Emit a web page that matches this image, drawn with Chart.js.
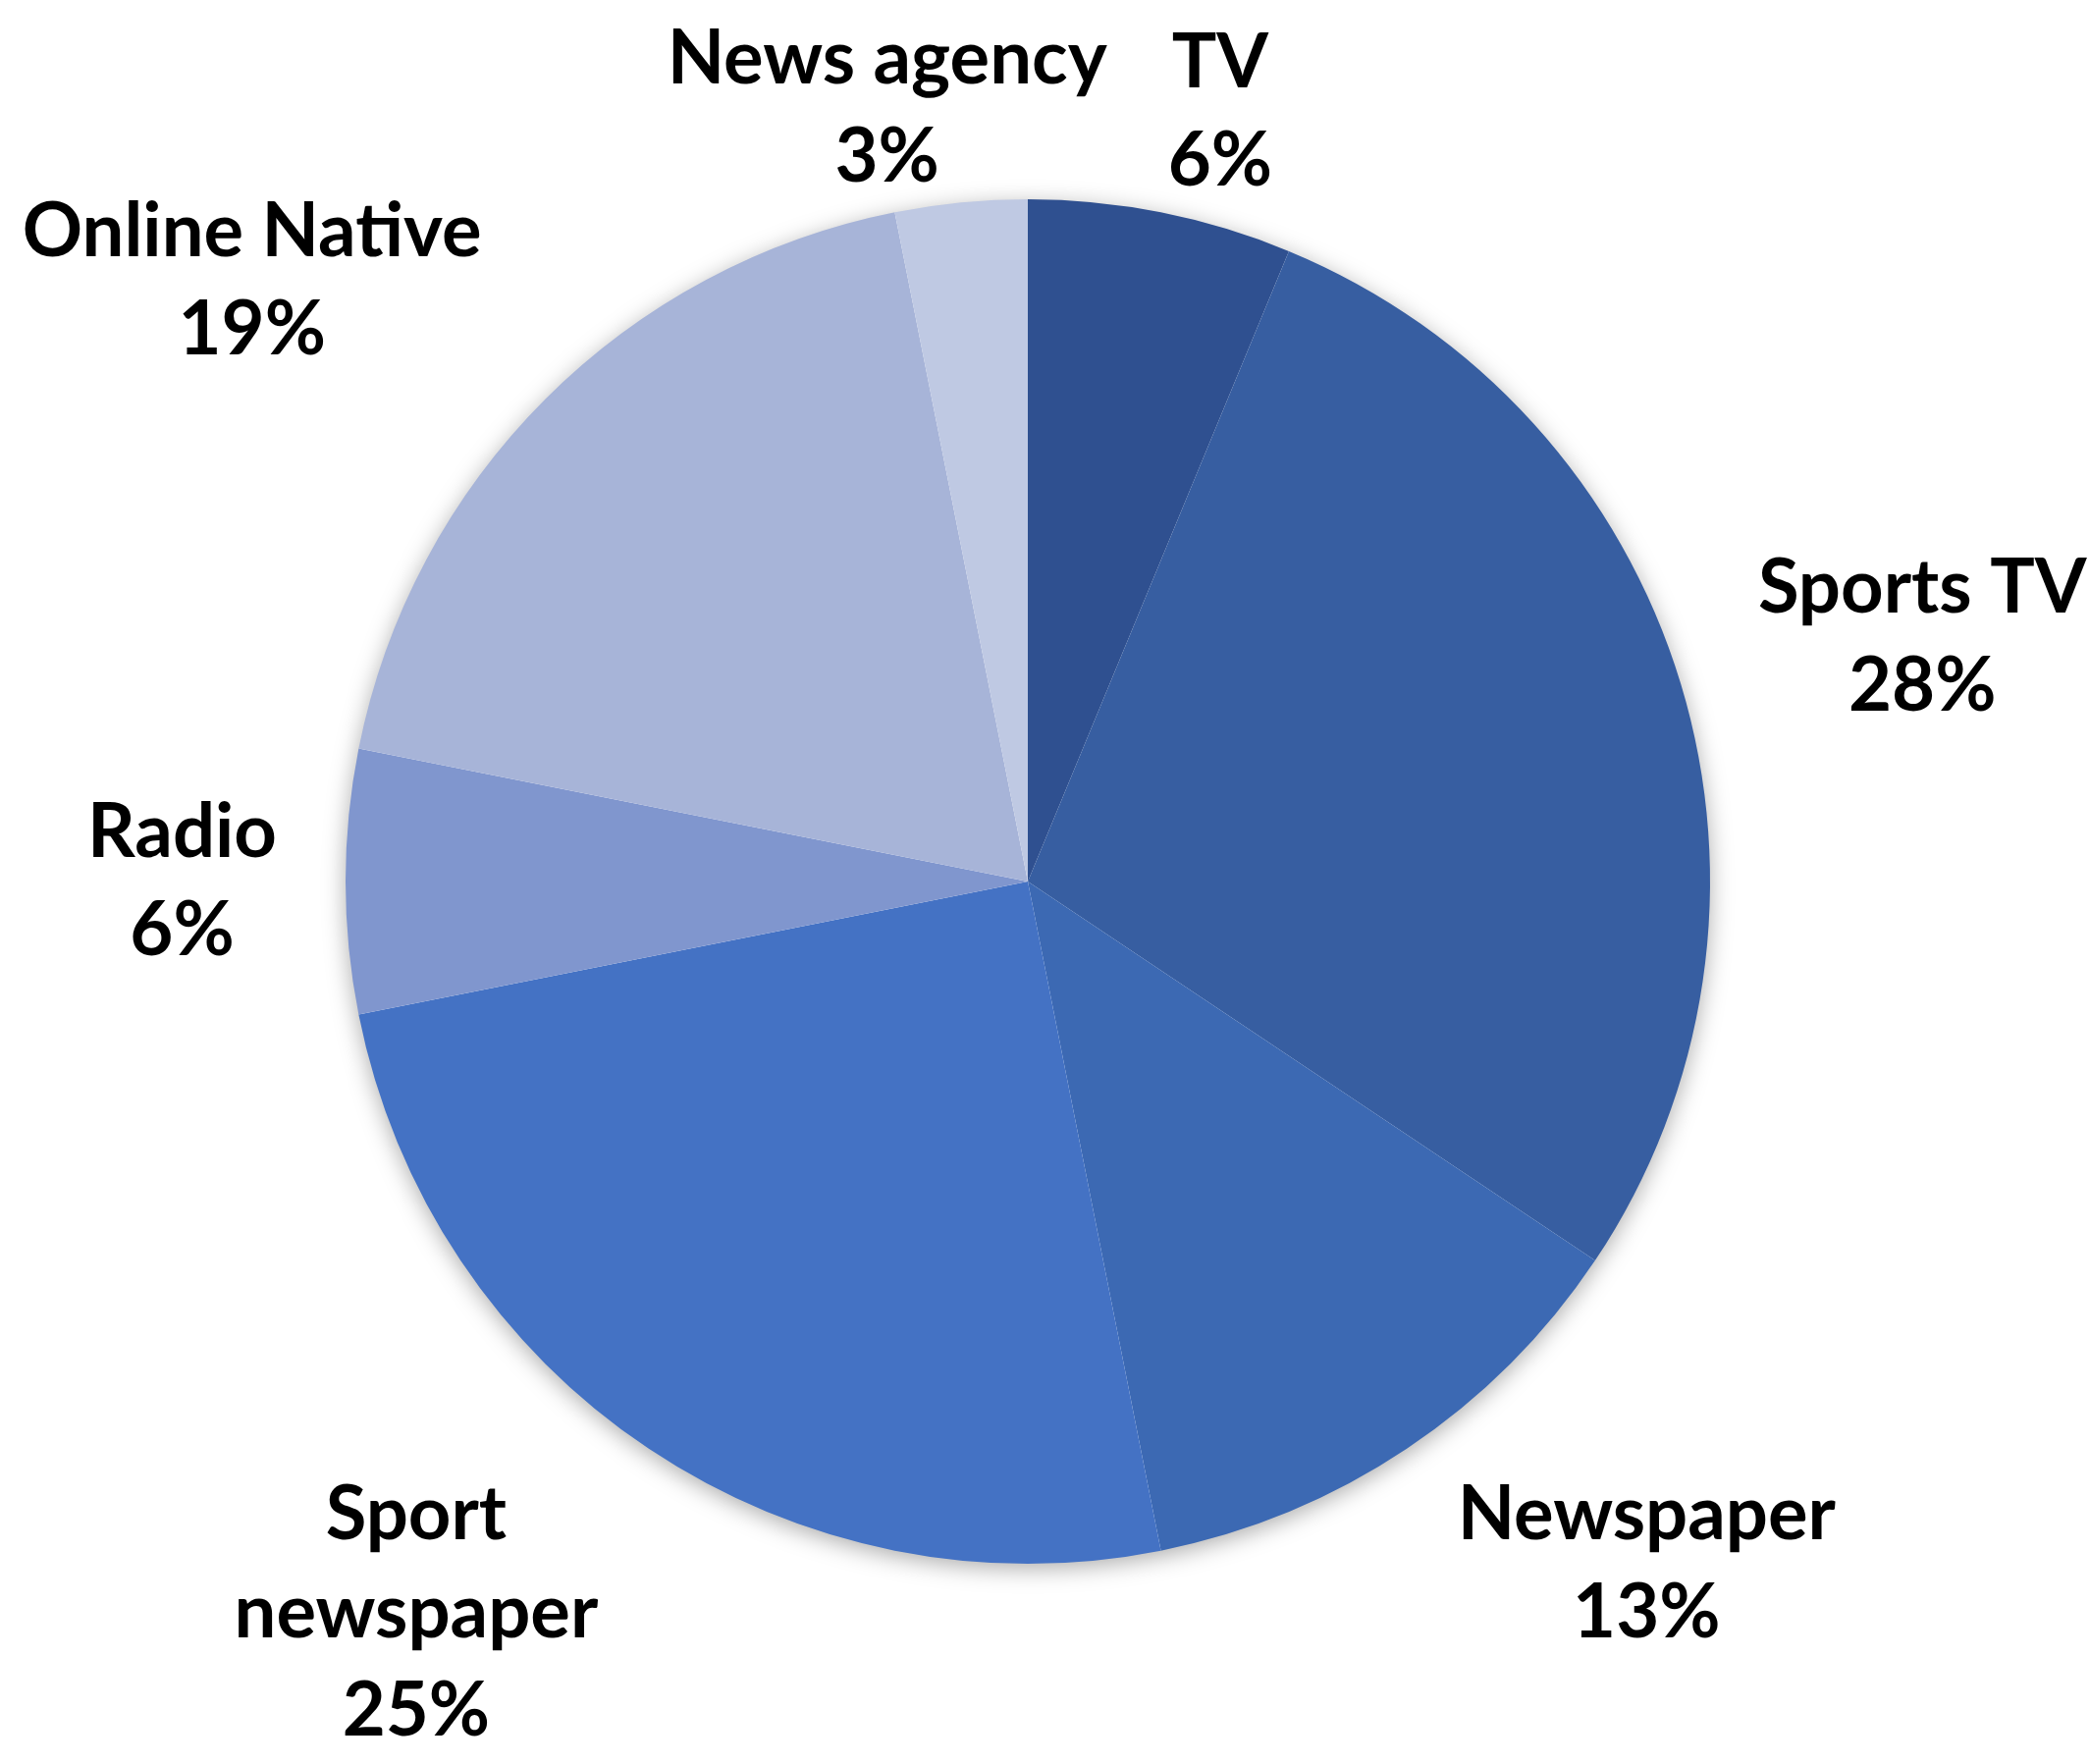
<!DOCTYPE html>
<html>
<head>
<meta charset="utf-8">
<script src="https://cdn.jsdelivr.net/npm/chart.js@4.4.1/dist/chart.umd.min.js"></script>
<style>
  html, body { margin: 0; padding: 0; background: #fff; }
  canvas { display: block; }
</style>
</head>
<body>
<canvas id="pieChart" width="2128" height="1797"></canvas>
<script>
const categories = ['TV', 'Sports TV', 'Newspaper', 'Sport newspaper', 'Radio', 'Online Native', 'News agency'];
const counts = [2, 9, 4, 8, 2, 6, 1];
const sliceColors = ['#2F5090', '#375EA1', '#3C69B3', '#4472C4', '#8096CE', '#A7B4D8', '#BFC9E3'];

const labelFont = 'bold 76px Lato, "Open Sans", sans-serif';
const lineHeight = 100;
const wrapWidth = 500;

const total = counts.reduce((a, b) => a + b, 0);

function wrapText(ctx, text) {
    let words = text.split(' ');
    let lines = [];
    let line = '';
    words.forEach(w => {
        let test = line ? line + ' ' + w : w;
        if (line && ctx.measureText(test).width > wrapWidth) {
            lines.push(line);
            line = w;
        } else {
            line = test;
        }
    });
    lines.push(line);
    return lines;
}

// soft shadow under the whole pie
const pieShadow = {
    id: 'pieShadow',
    beforeDatasetsDraw(chart) {
        const arc = chart.getDatasetMeta(0).data[0];
        if (!arc) return;
        const ctx = chart.ctx;
        ctx.save();
        ctx.shadowColor = 'rgba(0,0,0,0.35)';
        ctx.shadowBlur = 24;
        ctx.shadowOffsetY = 5;
        ctx.fillStyle = '#ffffff';
        ctx.beginPath();
        ctx.arc(arc.x, arc.y, arc.outerRadius - 1, 0, Math.PI * 2);
        ctx.fill();
        ctx.restore();
    }
};

// category + percent labels outside the slices
const outsideLabels = {
    id: 'outsideLabels',
    afterDatasetsDraw(chart) {
        const ctx = chart.ctx;
        const arcs = chart.getDatasetMeta(0).data;
        ctx.save();
        ctx.font = labelFont;
        ctx.fillStyle = '#000000';
        ctx.textAlign = 'center';
        ctx.textBaseline = 'middle';

        let boxes = arcs.map((arc, i) => {
            let lines = wrapText(ctx, categories[i]);
            lines.push(Math.round(counts[i] / total * 100) + '%');
            let w = Math.max(...lines.map(l => ctx.measureText(l).width)) / 2 + 10;
            let h = lines.length * lineHeight / 2 - 10;
            let mid = (arc.startAngle + arc.endAngle) / 2;
            let ux = Math.cos(mid);
            let uy = Math.sin(mid);
            let gap = 60 * Math.abs(ux);
            let ax = arc.x + ux * (arc.outerRadius + gap);
            let ay = arc.y + uy * (arc.outerRadius + gap);
            return {
                lines: lines, w: w, h: h,
                x: ax + Math.sign(ux) * (w * Math.min(1, 2 * Math.abs(ux)) + 50 * Math.abs(ux * uy)),
                y: ay + Math.sign(uy) * h * Math.min(1, 4 * uy * uy)
            };
        });

        // push overlapping labels apart sideways
        for (let a = 0; a < boxes.length; a++) {
            for (let b = a + 1; b < boxes.length; b++) {
                let p = boxes[a], q = boxes[b];
                if (Math.abs(p.y - q.y) > p.h + q.h) continue;
                let need = p.w + q.w + 42 - Math.abs(p.x - q.x);
                if (need > 0) {
                    let dir = p.x < q.x ? -1 : 1;
                    p.x += dir * need / 2;
                    q.x -= dir * need / 2;
                }
            }
        }

        boxes.forEach(bx => {
            bx.lines.forEach((l, k) => {
                ctx.fillText(l, bx.x, bx.y + (k - (bx.lines.length - 1) / 2) * lineHeight);
            });
        });
        ctx.restore();
    }
};

const ctx = document.getElementById('pieChart').getContext('2d');
const chart = new Chart(ctx, {
    type: 'pie',
    data: {
        labels: categories,
        datasets: [{
            data: counts,
            backgroundColor: sliceColors,
            borderWidth: 0,
            hoverOffset: 0
        }]
    },
    options: {
        responsive: false,
        devicePixelRatio: 1,
        animation: false,
        events: [],
        layout: {
            padding: { left: 350, right: 384, top: 203, bottom: 204 }
        },
        plugins: {
            legend: { display: false },
            tooltip: { enabled: false }
        }
    },
    plugins: [pieShadow, outsideLabels]
});
</script>
</body>
</html>
